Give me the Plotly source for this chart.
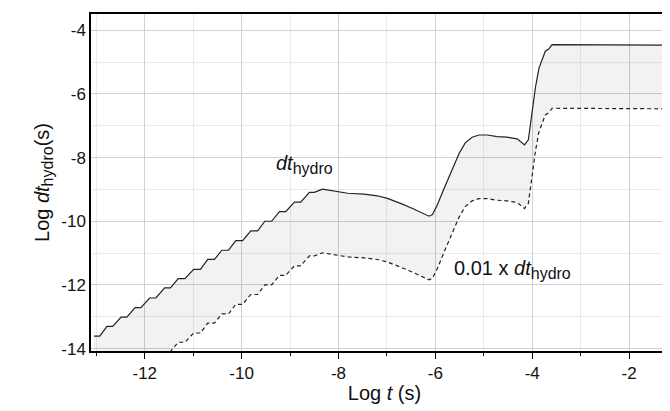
import numpy as np
import plotly.graph_objects as go

# Log t (s) and Log dt_hydro (s) (solid curve)
log_t = [-13.05, -12.93, -12.78, -12.66, -12.49, -12.37, -12.20, -12.08,
         -11.90, -11.77, -11.59, -11.47, -11.31, -11.17, -10.99, -10.85,
         -10.70, -10.56, -10.41, -10.27, -10.12, -9.98, -9.81, -9.67,
         -9.52, -9.38, -9.22, -9.09, -8.91, -8.78, -8.60, -8.50, -8.33,
         -8.16, -7.99, -7.81, -7.47, -7.20, -6.99, -6.78, -6.72, -6.47,
         -6.27, -6.13, -6.06, -5.96, -5.82, -5.65, -5.51, -5.38, -5.24,
         -5.10, -4.93, -4.72, -4.52, -4.31, -4.16, -4.08, -4.02, -3.93,
         -3.86, -3.79, -3.73, -3.66, -3.59, -1.05]
log_dt = [-13.61, -13.61, -13.30, -13.30, -13.01, -13.01, -12.71, -12.71,
          -12.41, -12.41, -12.09, -12.09, -11.80, -11.80, -11.51, -11.51,
          -11.20, -11.20, -10.91, -10.91, -10.61, -10.61, -10.30, -10.30,
          -10.00, -10.00, -9.70, -9.70, -9.40, -9.40, -9.09, -9.09, -8.99,
          -9.04, -9.09, -9.12, -9.15, -9.20, -9.28, -9.39, -9.44, -9.60,
          -9.75, -9.84, -9.79, -9.49, -8.97, -8.34, -7.87, -7.53, -7.36,
          -7.29, -7.29, -7.34, -7.36, -7.41, -7.60, -7.44, -6.76, -5.76,
          -5.19, -4.93, -4.66, -4.59, -4.45, -4.47]
factor = 0.01  # lower curve: 0.01 x dt_hydro
log_dt_small = [v + np.log10(factor) for v in log_dt]

x_ticks = [-12, -10, -8, -6, -4, -2]
y_ticks = [-14, -12, -10, -8, -6, -4]

FONT = "Liberation Sans, Arial, sans-serif"
SUB = "<sub><span style='font-size:16px'>hydro</span></sub>"

fig = go.Figure()
fig.add_trace(go.Scatter(x=log_t, y=log_dt_small, mode="lines",
                         line=dict(color="#222222", width=1.2, dash="4px,3px"),
                         hoverinfo="skip", showlegend=False))
fig.add_trace(go.Scatter(x=log_t, y=log_dt, mode="lines",
                         line=dict(color="#222222", width=1.2),
                         fill="tonexty", fillcolor="rgba(0,0,0,0.05)",
                         hoverinfo="skip", showlegend=False))

fig.add_annotation(x=-9.34, y=-8.22, xref="x", yref="y", xanchor="left", yanchor="middle",
                   text="<i>dt</i>" + SUB,
                   showarrow=False, font=dict(family=FONT, size=20, color="#111"))
fig.add_annotation(x=-5.66, y=-11.50, xref="x", yref="y", xanchor="left", yanchor="middle",
                   text="0.01 x <i>dt</i>" + SUB,
                   showarrow=False, font=dict(family=FONT, size=20, color="#111"))

fig.update_layout(
    width=670, height=411,
    margin=dict(l=83, r=0, t=6, b=68),
    paper_bgcolor="white", plot_bgcolor="white",
    font=dict(family=FONT, size=17, color="#111"),
    xaxis=dict(range=[-13.11, -0.99], tickvals=x_ticks, ticktext=[str(v) for v in x_ticks],
               showline=True, linecolor="black", linewidth=1.5, mirror=True,
               ticks="outside", ticklen=6, tickcolor="black", tickwidth=1.2,
               showgrid=True, gridcolor="#c9d2dd", gridwidth=1, zeroline=False,
               minor=dict(dtick=1, tick0=-13, showgrid=True, gridcolor="#e6ebf1",
                          ticks="outside", ticklen=3, tickcolor="black"),
               title=dict(text="Log <i>t</i> (s)", font=dict(size=20), standoff=4)),
    yaxis=dict(range=[-14.075, -3.49], tickvals=y_ticks, ticktext=[str(v) for v in y_ticks],
               showline=True, linecolor="black", linewidth=1.5, mirror=False,
               ticks="", showgrid=True, gridcolor="#c9d2dd", gridwidth=1, zeroline=False,
               minor=dict(dtick=1, tick0=-13, showgrid=True, gridcolor="#e6ebf1"),
               title=dict(text="Log <i>dt</i>" + SUB + "(s)",
                          font=dict(size=20), standoff=6)),
)

fig.write_html("out.html")
